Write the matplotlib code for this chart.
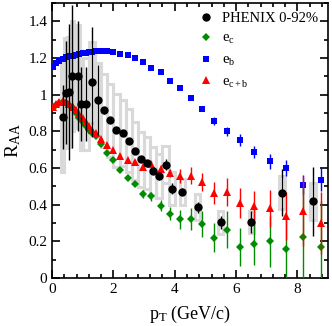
import numpy as np
import matplotlib
matplotlib.use("Agg")
import matplotlib.pyplot as plt
from matplotlib.patches import Rectangle

plt.rcParams['font.family'] = ['Liberation Serif', 'DejaVu Serif']
plt.rcParams['mathtext.fontset'] = 'custom'
plt.rcParams['mathtext.rm'] = 'Liberation Serif'
plt.rcParams['mathtext.it'] = 'Liberation Serif:italic'

# PHENIX 0-92% data
pt_data = [0.35, 0.45, 0.55, 0.65, 0.85, 0.95, 1.1, 1.3, 1.5, 1.7, 1.9, 2.1, 2.3, 2.5,
           2.7, 2.9, 3.1, 3.3, 3.5, 3.7, 3.9, 4.25, 4.75, 5.5, 6.5, 7.5, 8.5]
raa_data = [0.878, 1.01, 1.015, 1.10, 1.10, 0.95, 0.95, 1.067, 0.97, 0.915, 0.86, 0.805,
            0.789, 0.75, 0.692, 0.648, 0.627, 0.585, 0.556, 0.619, 0.488, 0.471, 0.387,
            0.303, 0.305, 0.464, 0.418]
stat_data = [0.175, 0.28, 0.37, 0.39, 0.3, 0.2, 0.2, 0.3, 0.19, 0.02, 0.015, 0.015,
             0.015, 0.015, 0.015, 0.015, 0.015, 0.02, 0.02, 0.03, 0.03, 0.02, 0.03,
             0.035, 0.06, 0.128, 0.19]
sys_data = [0.3, 0.3, 0.3, 0.3, 0.28, 0.25, 0.25, 0.22, 0.2, 0.2, 0.2, 0.2, 0.18, 0.17,
            0.16, 0.15, 0.14, 0.13, 0.12, 0.1, 0.09, 0.07, 0.07, 0.06, 0.06, 0.09, 0.1]
box_half = [0.05, 0.05, 0.05, 0.05, 0.05, 0.05, 0.1, 0.1, 0.1, 0.1, 0.1, 0.1, 0.1, 0.1,
            0.1, 0.1, 0.1, 0.1, 0.1, 0.1, 0.1, 0.08, 0.08, 0.08, 0.08, 0.1, 0.1]

# model curves
pt_model = [0.02, 0.12, 0.23, 0.34, 0.45, 0.56, 0.67, 0.78, 0.89, 1.0, 1.1, 1.2, 1.31,
            1.43, 1.59, 1.80, 1.99, 2.21, 2.46, 2.70, 2.96, 3.24, 3.54, 3.85, 4.17,
            4.52, 4.88, 5.29, 5.69, 6.13, 6.60, 7.11, 7.62, 8.18, 8.78]
ec = [0.93, 0.945, 0.955, 0.958, 0.953, 0.943, 0.925, 0.90, 0.875, 0.85, 0.83, 0.81,
      0.79, 0.774, 0.729, 0.683, 0.642, 0.59, 0.544, 0.513, 0.459, 0.446, 0.395, 0.351,
      0.32, 0.32, 0.294, 0.221, 0.263, 0.17, 0.185, 0.20, 0.157, 0.223, 0.17]
ec_err = [0, 0, 0, 0, 0, 0, 0, 0, 0, 0, 0, 0, 0, 0, 0, 0, 0, 0.005, 0.008, 0.012,
          0.02, 0.025, 0.03, 0.035, 0.05, 0.06, 0.07, 0.08, 0.1, 0.105, 0.115, 0.14,
          0.17, 0.3, 0.25]
eb = [1.15, 1.172, 1.185, 1.195, 1.203, 1.208, 1.213, 1.218, 1.222, 1.226, 1.229, 1.232,
      1.234, 1.236, 1.237, 1.236, 1.23, 1.222, 1.214, 1.2, 1.18, 1.145, 1.121, 1.075,
      1.038, 0.98, 0.92, 0.857, 0.80, 0.752, 0.687, 0.637, 0.60, 0.51, 0.537]
eb_err = [0, 0, 0, 0, 0, 0, 0, 0, 0, 0, 0, 0, 0, 0, 0, 0, 0, 0, 0, 0, 0, 0, 0, 0.003,
          0.004, 0.006, 0.01, 0.02, 0.025, 0.034, 0.032, 0.04, 0.045, 0.05, 0.065]
ecb = [0.935, 0.95, 0.96, 0.963, 0.96, 0.95, 0.935, 0.915, 0.893, 0.87, 0.85, 0.83,
       0.81, 0.789, 0.76, 0.725, 0.696, 0.665, 0.643, 0.634, 0.607, 0.623, 0.597, 0.571,
       0.559, 0.559, 0.524, 0.464, 0.471, 0.41, 0.395, 0.38, 0.34, 0.367, 0.30]
ecb_err = [0, 0, 0, 0, 0, 0, 0, 0, 0, 0, 0, 0, 0, 0, 0, 0, 0, 0, 0.005, 0.008, 0.01,
           0.015, 0.02, 0.022, 0.038, 0.045, 0.05, 0.06, 0.076, 0.08, 0.08, 0.1, 0.13,
           0.19, 0.17]

fig = plt.figure(figsize=(3.32, 3.26), dpi=100)
ax = fig.add_axes([0.157, 0.147, 0.831, 0.844])

# systematic boxes
for x, y, s, w in zip(pt_data, raa_data, sys_data, box_half):
    ax.add_patch(Rectangle((x - w, y - s), 2 * w, 2 * s, facecolor='none',
                           edgecolor='#d9d9d9', lw=2.2, zorder=1))

ax.errorbar(pt_model, eb, yerr=eb_err, fmt='s', color='#0000ff', ms=4.3, mew=0,
            elinewidth=1, capsize=2, zorder=3, label='e$_\\mathregular{b}$')
ax.errorbar(pt_model, ec, yerr=ec_err, fmt='D', color='#008c00', ms=3.8, mew=0,
            elinewidth=1, capsize=2, zorder=3, label='e$_\\mathregular{c}$')
ax.errorbar(pt_model, ecb, yerr=ecb_err, fmt='^', color='#ff0000', ms=5.2, mew=0,
            elinewidth=1, capsize=2, zorder=4, label='e$_\\mathregular{c+b}$')
ax.errorbar(pt_data, raa_data, yerr=stat_data, fmt='o', color='black', ms=6, mew=0,
            elinewidth=1, capsize=2, zorder=5, label='PHENIX 0-92%')

ax.set_xlim(0, 9)
ax.set_ylim(0, 1.5)
ax.set_xticks([0, 2, 4, 6, 8])
ax.set_xticks(np.arange(0, 9.01, 0.4), minor=True)
ax.set_yticks([0, 0.2, 0.4, 0.6, 0.8, 1.0, 1.2, 1.4])
ax.set_yticklabels(['0', '0.2', '0.4', '0.6', '0.8', '1', '1.2', '1.4'])
ax.set_yticks(np.arange(0, 1.51, 0.1), minor=True)
ax.tick_params(which='both', direction='in', top=True, right=True, labelsize=11, width=1.2)
ax.tick_params(which='major', length=6)
ax.tick_params(which='minor', length=3)
for sp in ax.spines.values():
    sp.set_linewidth(1.2)

ax.set_xlabel('p$_\\mathregular{T}$ (GeV/c)', fontsize=13, labelpad=6)
ax.set_ylabel('R$_\\mathregular{AA}$', fontsize=14, labelpad=4)

h, l = ax.get_legend_handles_labels()
order = [3, 1, 0, 2]
ax.legend([h[i][0] for i in order], [l[i] for i in order], loc='upper right',
          frameon=False, fontsize=10.5, handlelength=1.0, handletextpad=0.6,
          labelspacing=0.5, borderaxespad=0.0, bbox_to_anchor=(0.985, 0.99))

fig.savefig('out.png', dpi=100)
